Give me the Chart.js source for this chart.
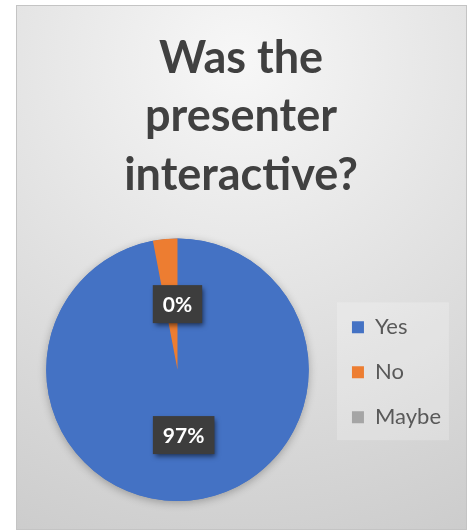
<!DOCTYPE html>
<html><head><meta charset="utf-8">
<script src="https://cdn.jsdelivr.net/npm/chart.js@4/dist/chart.umd.min.js"></script>
<style>html,body{margin:0;padding:0;background:#fff;}canvas{display:block;}</style>
</head><body>
<canvas id="c" width="475" height="530"></canvas>
<script>
const titleLines = ['Was the', 'presenter', 'interactive?'];
const categories = ['Yes', 'No', 'Maybe'];
const responses = [97, 3, 0];
const sliceColors = ['#4472C4', '#ED7D31', '#A5A5A5'];
const labelledSlices = ['Yes', 'Maybe'];

const panelPlugin = {
  id: 'panel',
  beforeDraw(chart) {
    const ctx = chart.ctx;
    ctx.save();
    ctx.fillStyle = '#ffffff';
    ctx.fillRect(0, 0, chart.width, chart.height);
    const x0 = 16.5, y0 = 5.5, x1 = 466.5, y1 = 529.5;
    const g = ctx.createRadialGradient(240, 60, 0, 240, 60, 560);
    g.addColorStop(0, '#f7f7f7');
    g.addColorStop(1, '#c9c9c9');
    ctx.fillStyle = g;
    ctx.fillRect(x0, y0, x1 - x0, y1 - y0);
    ctx.strokeStyle = '#c4c4c4';
    ctx.lineWidth = 1;
    ctx.strokeRect(x0, y0, x1 - x0, y1 - y0);
    const lg = chart.legend;
    if (lg && lg.legendHitBoxes && lg.legendHitBoxes.length) {
      const hb = lg.legendHitBoxes;
      const first = hb[0], last = hb[hb.length - 1];
      const lx = first.left - 15, ly = first.top - 14;
      const lw = 112, lh = (last.top + 22) - first.top + 26;
      ctx.fillStyle = 'rgba(255,255,255,0.22)';
      ctx.fillRect(lx, ly, lw, lh);
    }
    ctx.restore();
  }
};

const pieShadowPlugin = {
  id: 'pieShadow',
  beforeDatasetsDraw(chart) {
    const meta = chart.getDatasetMeta(0);
    if (!meta.data.length) return;
    const a = meta.data[0];
    const ctx = chart.ctx;
    ctx.save();
    ctx.shadowColor = 'rgba(0,0,0,0.28)';
    ctx.shadowBlur = 8;
    ctx.shadowOffsetY = 2;
    ctx.fillStyle = sliceColors[0];
    ctx.beginPath();
    ctx.arc(a.x, a.y, a.outerRadius, 0, Math.PI * 2);
    ctx.fill();
    ctx.restore();
  }
};

const sliceLabelPlugin = {
  id: 'sliceLabels',
  afterDatasetsDraw(chart) {
    const ctx = chart.ctx;
    const meta = chart.getDatasetMeta(0);
    const data = chart.data.datasets[0].data;
    const total = data.reduce((s, v) => s + v, 0);
    ctx.save();
    ctx.font = 'bold 21px Lato';
    ctx.textAlign = 'center';
    ctx.textBaseline = 'middle';
    meta.data.forEach((arc, i) => {
      if (!labelledSlices.includes(chart.data.labels[i])) return;
      const p = arc.tooltipPosition();
      const txt = Math.round(data[i] / total * 100) + '%';
      const tw = ctx.measureText(txt).width;
      const w = tw + 20, h = 38;
      ctx.save();
      ctx.shadowColor = 'rgba(0,0,0,0.55)';
      ctx.shadowBlur = 5;
      ctx.shadowOffsetX = 2;
      ctx.shadowOffsetY = 3;
      ctx.fillStyle = '#3d3d3d';
      ctx.fillRect(p.x - w / 2, p.y - h / 2, w, h);
      ctx.restore();
      ctx.fillStyle = '#ffffff';
      ctx.fillText(txt, p.x, p.y + 1);
    });
    ctx.restore();
  }
};

new Chart(document.getElementById('c'), {
  type: 'pie',
  data: {
    labels: categories,
    datasets: [{ data: responses, backgroundColor: sliceColors, borderWidth: 0, hoverBorderWidth: 0 }]
  },
  options: {
    responsive: false,
    animation: false,
    devicePixelRatio: 1,
    layout: { padding: { left: 31, right: 24, top: 0, bottom: 29 } },
    plugins: {
      title: {
        display: true,
        text: titleLines,
        color: '#404040',
        font: { family: 'Lato', size: 45, weight: 'bold', lineHeight: 1.3 },
        padding: { top: 29, bottom: 34 }
      },
      legend: {
        position: 'right',
        fullSize: false,
        labels: {
          boxWidth: 12,
          boxHeight: 12,
          padding: 28,
          color: '#595959',
          font: { family: 'Lato', size: 22, lineHeight: 0.77 },
          generateLabels(chart) {
            const items = Chart.overrides.pie.plugins.legend.labels.generateLabels(chart);
            items.forEach(it => { it.text = [it.text]; it.strokeStyle = it.fillStyle; it.lineWidth = 0; });
            return items;
          }
        }
      },
      tooltip: { enabled: false }
    }
  },
  plugins: [panelPlugin, pieShadowPlugin, sliceLabelPlugin]
});
</script>
</body></html>
